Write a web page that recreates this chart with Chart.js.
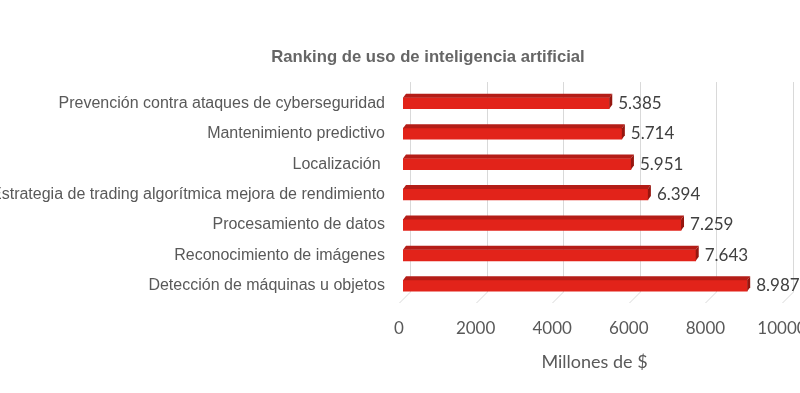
<!DOCTYPE html>
<html><head><meta charset="utf-8">
<script src="https://cdn.jsdelivr.net/npm/chart.js@4"></script>
<style>html,body{margin:0;padding:0;background:#fff}canvas{display:block}</style>
</head><body>
<canvas id="c" width="800" height="393"></canvas>
<script>
const categories = [
  "Prevención contra ataques de cyberseguridad",
  "Mantenimiento predictivo",
  "Localización ",
  "Estrategia de trading algorítmica mejora de rendimiento",
  "Procesamiento de datos",
  "Reconocimiento de imágenes",
  "Detección de máquinas u objetos"
];
const values = [5385, 5714, 5951, 6394, 7259, 7643, 8987];
const xTicks = [0, 2000, 4000, 6000, 8000, 10000];
const chartTitle = "Ranking de uso de inteligencia artificial";
const axisTitle = "Millones de $";

function fmt(v) {
  const s = String(Math.round(v));
  return s.replace(/\B(?=(\d{3})+(?!\d))/g, ".");
}

const DEPTH = {dx: 3, dy: 4};

const gridPlugin = {
  id: 'grid3d',
  beforeDatasetsDraw(chart) {
    const {ctx, chartArea} = chart;
    const xs = chart.scales.x;
    ctx.save();
    ctx.strokeStyle = '#d9d9d9';
    ctx.lineWidth = 1;
    xTicks.forEach(v => {
      const px = Math.round(xs.getPixelForValue(v)) + 0.5;
      ctx.beginPath();
      ctx.moveTo(px + 7, chartArea.top - 6);
      ctx.lineTo(px + 7, chartArea.bottom - 9);
      ctx.lineTo(px - 4, chartArea.bottom + 2);
      ctx.stroke();
    });
    ctx.restore();
  }
};

const barPlugin = {
  id: 'bar3d',
  afterDatasetsDraw(chart) {
    const {ctx} = chart;
    const meta = chart.getDatasetMeta(0);
    ctx.save();
    meta.data.forEach((el, i) => {
      const p = el.getProps(['x', 'y', 'base', 'height'], true);
      const x0 = p.base, x1 = p.x;
      const yT = p.y - p.height / 2, yB = p.y + p.height / 2;
      const {dx, dy} = DEPTH;
      ctx.fillStyle = '#b41d17';
      ctx.beginPath();
      ctx.moveTo(x0, yT);
      ctx.lineTo(x0 + dx, yT - dy);
      ctx.lineTo(x1 + dx, yT - dy);
      ctx.lineTo(x1, yT);
      ctx.closePath();
      ctx.fill();
      ctx.fillStyle = '#96160f';
      ctx.beginPath();
      ctx.moveTo(x1, yT);
      ctx.lineTo(x1 + dx, yT - dy);
      ctx.lineTo(x1 + dx, yB - dy);
      ctx.lineTo(x1, yB);
      ctx.closePath();
      ctx.fill();
      ctx.fillStyle = '#404040';
      ctx.font = '17px Lato';
      ctx.textAlign = 'left';
      ctx.textBaseline = 'middle';
      ctx.fillText(fmt(values[i]), x1 + dx + 6, p.y);
    });
    ctx.restore();
  }
};

new Chart(document.getElementById('c'), {
  type: 'bar',
  data: {
    labels: categories,
    datasets: [{
      data: values,
      backgroundColor: '#e2231a',
      borderWidth: 0,
      barThickness: 11
    }]
  },
  options: {
    indexAxis: 'y',
    responsive: false,
    animation: false,
    devicePixelRatio: 1,
    layout: {padding: {left: 70, right: 14, top: 0, bottom: 0}},
    plugins: {
      legend: {display: false},
      tooltip: {enabled: false},
      title: {
        display: true,
        text: chartTitle,
        color: '#666666',
        font: {family: 'Liberation Sans', size: 16.7, weight: 'bold', lineHeight: 1.2},
        padding: {top: 47, bottom: 21}
      }
    },
    scales: {
      x: {
        type: 'linear',
        min: 0, max: 10000,
        afterBuildTicks(s) { s.ticks = xTicks.map(v => ({value: v})); },
        afterFit(s) { s.height = 92; s.paddingLeft = 0; s.paddingRight = 0; },
        grid: {display: false, drawTicks: false},
        border: {display: false},
        ticks: {
          color: '#595959',
          font: {family: 'Lato', size: 17},
          padding: 17,
          labelOffset: -4,
          maxRotation: 0,
          autoSkip: false,
          callback: v => String(v)
        },
        title: {
          display: true,
          text: axisTitle,
          color: '#595959',
          font: {family: 'Lato', size: 18},
          padding: {top: 4, bottom: 20}
        }
      },
      y: {
        afterFit(s) { s.width = 333; s._computeLabelArea = () => null; },
        grid: {display: false, drawTicks: false},
        border: {display: false},
        ticks: {
          color: '#595959',
          font: {family: 'Liberation Sans', size: 16},
          padding: 18,
          autoSkip: false
        }
      }
    }
  },
  plugins: [gridPlugin, barPlugin]
});
</script>
</body></html>
